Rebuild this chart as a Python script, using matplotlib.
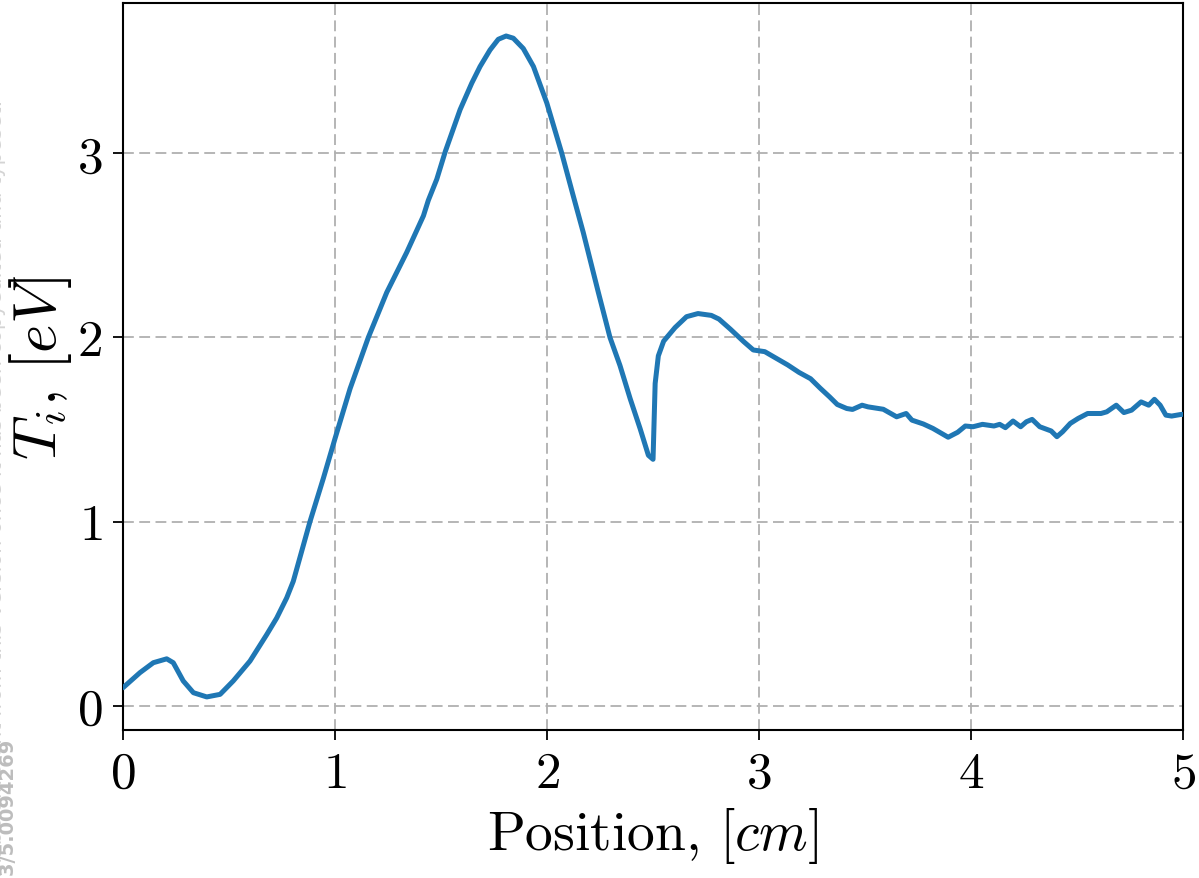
import numpy as np
from matplotlib import pyplot as plt

plt.rcParams['font.family'] = 'serif'
plt.rcParams['font.serif'] = ['cmr10']
plt.rcParams['mathtext.fontset'] = 'cm'
plt.rcParams['axes.formatter.use_mathtext'] = True

# ion temperature profile
position = [0.0, 0.08, 0.143, 0.206, 0.237, 0.284, 0.332, 0.395, 0.458, 0.52,
            0.599, 0.678, 0.725, 0.772, 0.803, 0.882, 0.945, 1.0, 1.071, 1.157,
            1.244, 1.338, 1.417, 1.44, 1.48, 1.52, 1.59, 1.645, 1.684, 1.731,
            1.77, 1.807, 1.841, 1.888, 1.936, 1.999, 2.069, 2.124, 2.171, 2.242,
            2.297, 2.344, 2.392, 2.439, 2.478, 2.50, 2.51, 2.525, 2.55, 2.604,
            2.658, 2.712, 2.775, 2.811, 2.865, 2.928, 2.973, 3.027, 3.081, 3.135,
            3.189, 3.243, 3.288, 3.333, 3.369, 3.414, 3.441, 3.486, 3.514, 3.586,
            3.649, 3.694, 3.721, 3.775, 3.82, 3.874, 3.892, 3.937, 3.973, 4.009,
            4.054, 4.108, 4.135, 4.162, 4.198, 4.234, 4.261, 4.288, 4.324, 4.378,
            4.405, 4.432, 4.468, 4.505, 4.55, 4.613, 4.64, 4.685, 4.721, 4.757,
            4.802, 4.838, 4.865, 4.892, 4.919, 4.946, 4.991, 5.0]
Ti = [0.097, 0.179, 0.233, 0.254, 0.233, 0.134, 0.07, 0.047, 0.061, 0.134,
      0.242, 0.386, 0.476, 0.585, 0.675, 1.0, 1.235, 1.451, 1.722, 2.0,
      2.245, 2.462, 2.661, 2.745, 2.86, 3.01, 3.238, 3.382, 3.472, 3.562,
      3.62, 3.638, 3.626, 3.57, 3.472, 3.274, 3.003, 2.768, 2.57, 2.245,
      2.0, 1.848, 1.668, 1.505, 1.36, 1.338, 1.75, 1.90, 1.98, 2.054,
      2.113, 2.13, 2.12, 2.10, 2.045, 1.977, 1.932, 1.923, 1.887, 1.851,
      1.81, 1.776, 1.725, 1.677, 1.636, 1.614, 1.609, 1.632, 1.623, 1.61,
      1.569, 1.587, 1.551, 1.53, 1.506, 1.47, 1.458, 1.485, 1.519, 1.515,
      1.528, 1.519, 1.528, 1.51, 1.546, 1.515, 1.542, 1.555, 1.515, 1.492,
      1.461, 1.488, 1.533, 1.56, 1.587, 1.587, 1.596, 1.632, 1.592, 1.605,
      1.65, 1.632, 1.664, 1.632, 1.578, 1.573, 1.582, 1.582]

xticks = [0, 1, 2, 3, 4, 5]
yticks = [0, 1, 2, 3]

fig = plt.figure(figsize=(11.99, 8.79), dpi=100)
ax = fig.add_axes([0.1026, 0.1684, 0.8841, 0.8271])

ax.plot(position, Ti, color='#1f77b4', linewidth=3.6, zorder=3,
        solid_joinstyle='round', solid_capstyle='round')
ax.set_xlim(0, 5)
ax.set_xticks(xticks)
ax.set_yticks(yticks)
ax.grid(True, color='#b0b0b0', linestyle=(0, (6, 3)), linewidth=1.3)

ax.tick_params(labelsize=37, length=7, width=1.3, pad=8)
for s in ax.spines.values():
    s.set_linewidth(1.5)

ax.set_xlabel(r'Position, $[cm]$', fontsize=40, labelpad=6)
ax.set_ylabel(r'$T_i,\,[eV]$', fontsize=44, labelpad=2)

# faint watermark cut at the left edge
fig.text(-0.003, 1 - 100 / 879,
         "This is the author's peer reviewed, accepted manuscript. However, the online version of record "
         "will be different from this version once it has been copyedited and typeset.",
         rotation=90, ha='center', va='top', fontsize=15, color='#d4d4d4',
         family=['Liberation Sans Narrow', 'DejaVu Sans Condensed', 'DejaVu Sans'])
fig.text(0.007, 1 - 740 / 879, 'PLEASE CITE THIS ARTICLE AS DOI: 10.1063/5.0094269',
         rotation=90, ha='center', va='top', fontsize=14, color='#bdbdbd', weight='bold',
         family=['Liberation Sans Narrow', 'DejaVu Sans Condensed', 'DejaVu Sans'])

plt.savefig('out.png', dpi=100)
